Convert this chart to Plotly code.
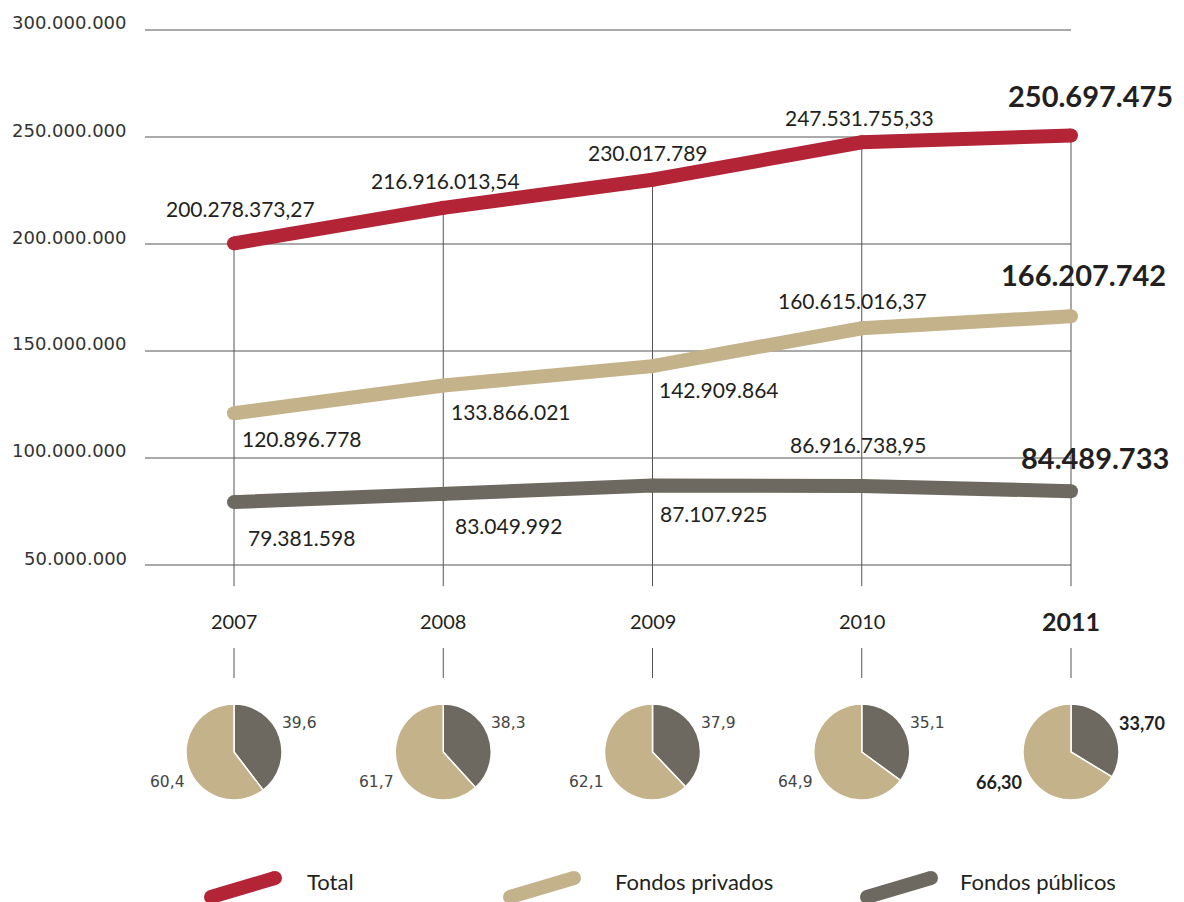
import plotly.graph_objects as go

# ---------------- data ----------------
years = [2007, 2008, 2009, 2010, 2011]
total = [200278373.27, 216916013.54, 230017789, 247531755.33, 250697475]
privados = [120896778, 133866021, 142909864, 160615016.37, 166207742]
publicos = [79381598, 83049992, 87107925, 86916738.95, 84489733]
pct_publicos = ["39,6", "38,3", "37,9", "35,1", "33,70"]
pct_privados = ["60,4", "61,7", "62,1", "64,9", "66,30"]
pie_pub = [39.6, 38.3, 37.9, 35.1, 33.70]
pie_priv = [60.4, 61.7, 62.1, 64.9, 66.30]
y_ticks = [50000000, 100000000, 150000000, 200000000, 250000000, 300000000]
series_names = ["Total", "Fondos privados", "Fondos públicos"]

# ---------------- style ----------------
W, H = 1184, 902
RED, BEIGE, GREY = "#B42437", "#C4B38A", "#6D6960"
TXT = "#231F20"
LAB_FONT = "Lato"
TICK_FONT = "DejaVu Sans"

X_LEFT_PX, X_RIGHT_PX = 145, 1100
X2007_PX, PX_PER_YEAR = 234, (1071 - 234) / 4
xr = [2007 - (X2007_PX - X_LEFT_PX) / PX_PER_YEAR, 2007 + (X_RIGHT_PX - X2007_PX) / PX_PER_YEAR]
Y_TOP_PX, Y_BOT_PX = 8.6, 586.4
yr = [40e6, 310e6]


def year_px(y):
    return X2007_PX + (y - 2007) * PX_PER_YEAR


def fmt(v):
    if abs(v - round(v)) > 1e-6:
        ip = int(v)
        dec = int(round((v - ip) * 100))
        return f"{ip:,}".replace(",", ".") + f",{dec:02d}"
    return f"{int(round(v)):,}".replace(",", ".")


fig = go.Figure()

# vertical guide lines from total point down
for yv, tv in zip(years, total):
    fig.add_trace(go.Scatter(x=[yv, yv], y=[tv, yr[0]], mode="lines",
                             line=dict(color="#555555", width=1), hoverinfo="skip", showlegend=False))

# grid lines
for t in y_ticks:
    fig.add_shape(type="line", xref="x", yref="y", x0=xr[0], x1=2011, y0=t, y1=t,
                  line=dict(color="#555555", width=1), layer="below")
    fig.add_annotation(xref="paper", yref="y", x=129 / W, y=t, yshift=7, xanchor="right",
                       yanchor="middle", text=f"{t:,}".replace(",", "."), showarrow=False,
                       font=dict(family=TICK_FONT, size=18, color="#333333"))

series = [(total, RED), (privados, BEIGE), (publicos, GREY)]
for (vals, col), name in zip(series, series_names):
    fig.add_trace(go.Scatter(x=years, y=vals, mode="lines+markers", name=name,
                             line=dict(color=col, width=14),
                             marker=dict(color=col, size=14, line=dict(width=0)),
                             showlegend=False, hoverinfo="skip"))

# value labels: (xshift, yshift, xanchor)
offsets = {
    0: [(6, 35, "center"), (2, 27, "center"), (-5, 27, "center"), (-2, 25, "center"), (19, 40, "center")],
    1: [(6, -25, "left"), (6, -26, "left"), (4, -23, "left"), (-9, 28, "center"), (12, 42, "center")],
    2: [(12, -35, "left"), (10, -31, "left"), (5, -28, "left"), (-4, 41, "center"), (24, 34, "center")],
}
for si, (vals, col) in enumerate(series):
    for i, (yv, v) in enumerate(zip(years, vals)):
        xs, ys, xa = offsets[si][i]
        last = i == len(years) - 1
        fig.add_annotation(xref="x", yref="y", x=yv, y=v, xshift=xs, yshift=ys, xanchor=xa,
                           yanchor="middle", showarrow=False, text=fmt(v),
                           font=dict(family=LAB_FONT, size=29 if last else 21, color=TXT,
                                     weight="bold" if last else "normal"))

# year labels and small ticks
for i, yv in enumerate(years):
    last = i == len(years) - 1
    fig.add_annotation(xref="x", yref="paper", x=yv, y=1 - 621 / H, yanchor="middle",
                       showarrow=False, text=str(yv),
                       font=dict(family=LAB_FONT, size=25 if last else 20, color=TXT,
                                 weight="bold" if last else "normal"))
    fig.add_shape(type="line", xref="x", yref="paper", x0=yv, x1=yv, y0=1 - 648 / H, y1=1 - 678 / H,
                  line=dict(color="#555555", width=1))

# pies
PIE_CY, PIE_R = 752, 48
for i, yv in enumerate(years):
    cx = year_px(yv)
    last = i == len(years) - 1
    fig.add_trace(go.Pie(values=[pie_pub[i], pie_priv[i]], labels=["Fondos públicos", "Fondos privados"],
                         sort=False, direction="clockwise", rotation=0, textinfo="none",
                         hoverinfo="skip", showlegend=False,
                         marker=dict(colors=[GREY, BEIGE], line=dict(color="white", width=1.5)),
                         domain=dict(x=[(cx - PIE_R) / W, (cx + PIE_R) / W],
                                     y=[1 - (PIE_CY + PIE_R) / H, 1 - (PIE_CY - PIE_R) / H])))
    pf = dict(family=LAB_FONT if last else TICK_FONT, size=18 if last else 15.5,
              color=TXT if last else "#444444", weight="bold" if last else "normal")
    fig.add_annotation(xref="x", yref="paper", x=yv, xshift=46, y=1 - 723 / H, xanchor="left",
                       yanchor="middle", showarrow=False, text=pct_publicos[i], font=pf)
    fig.add_annotation(xref="x", yref="paper", x=yv, xshift=-47, y=1 - 782 / H, xanchor="right",
                       yanchor="middle", showarrow=False, text=pct_privados[i], font=pf)

# legend (drawn on a pixel-space overlay axis)
legend_x = [211, 510, 867]
legend_tx = [305, 613, 958]
for lx, tx, (vals, col), name in zip(legend_x, legend_tx, series, series_names):
    fig.add_trace(go.Scatter(x=[lx, lx + 64], y=[897, 878], xaxis="x2", yaxis="y2",
                             mode="lines+markers", line=dict(color=col, width=14),
                             marker=dict(color=col, size=14), hoverinfo="skip", showlegend=False))
    fig.add_annotation(xref="x2", yref="y2", x=tx, y=881, xanchor="left", yanchor="middle",
                       showarrow=False, text=name,
                       font=dict(family=LAB_FONT, size=22, color=TXT))

fig.update_layout(
    width=W, height=H, margin=dict(l=0, r=0, t=0, b=0),
    paper_bgcolor="white", plot_bgcolor="rgba(0,0,0,0)",
    xaxis=dict(domain=[X_LEFT_PX / W, X_RIGHT_PX / W], range=xr, visible=False, fixedrange=True),
    yaxis=dict(domain=[1 - Y_BOT_PX / H, 1 - Y_TOP_PX / H], range=yr, visible=False, fixedrange=True),
    xaxis2=dict(domain=[0, 1], range=[0, W], visible=False, anchor="y2", fixedrange=True),
    yaxis2=dict(domain=[0, 1], range=[H, 0], visible=False, anchor="x2", fixedrange=True),
    showlegend=False,
)

fig.write_html("out.html", config={"displayModeBar": False},
               post_script="document.body.style.margin='0px';document.body.style.overflow='hidden';")
